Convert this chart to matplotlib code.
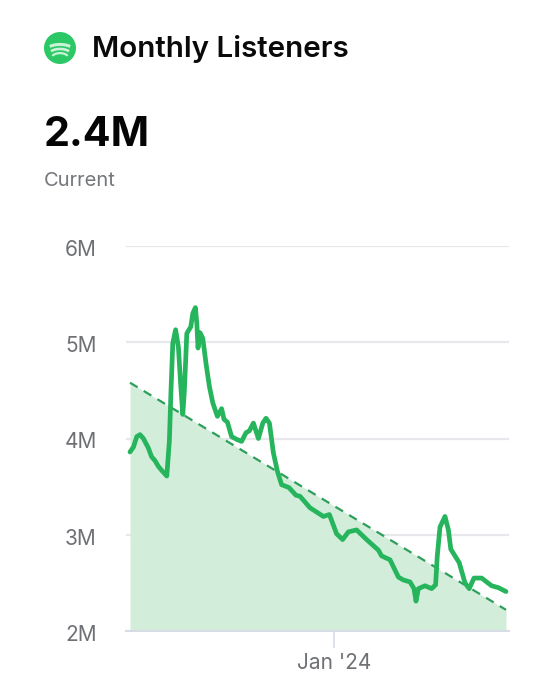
import matplotlib
matplotlib.use('Agg')
import matplotlib.pyplot as plt
from matplotlib.patches import Arc, Circle
from matplotlib.transforms import ScaledTranslation

plt.rcParams['font.family'] = ['Inter', 'DejaVu Sans']

# days relative to 1 Jan 2024, listeners in millions
days = [-102, -100.3, -98.6, -97, -95.3, -92.8, -91.2, -89.5, -87.8, -86.2, -83.6, -82.3,
        -81.5, -80.6, -79.2, -77.8, -76.6, -75.6, -74.8, -73.6, -72.8, -71.6, -70.6, -69.3,
        -68.6, -68, -67, -65.6, -64, -62.3, -60.6, -58.3, -56.2, -55, -53.3, -51.2,
        -48.6, -46.2, -44, -42.3, -40.3, -37.8, -35.6, -34, -32.3, -30.3, -28.3, -26.2,
        -22.5, -19, -17, -12, -5.3, -2.3, 1.3, 4.3, 7.2, 11.3, 16.3, 22.2,
        23.8, 28, 32.2, 34.7, 38, 40, 41, 42.2, 45.5, 48.8, 50.8, 51.6,
        53, 55.5, 57.2, 58.4, 62.6, 65.5, 67.6, 70, 73.8, 78.8, 82.2, 86]
listeners = [3.86, 3.91, 4.02, 4.04, 4.00, 3.90, 3.81, 3.77, 3.71, 3.67, 3.61, 3.98,
             4.50, 4.99, 5.13, 4.95, 4.54, 4.25, 4.50, 5.09, 5.12, 5.16, 5.30, 5.36,
             5.20, 4.94, 5.10, 5.04, 4.78, 4.54, 4.37, 4.23, 4.31, 4.20, 4.17, 4.02,
             3.99, 3.97, 4.06, 4.08, 4.16, 4.00, 4.16, 4.21, 4.16, 3.85, 3.66, 3.52,
             3.49, 3.41, 3.40, 3.28, 3.19, 3.21, 3.01, 2.95, 3.03, 3.05, 2.95, 2.84,
             2.78, 2.74, 2.56, 2.53, 2.51, 2.44, 2.31, 2.44, 2.47, 2.44, 2.48, 2.77,
             3.08, 3.19, 3.05, 2.85, 2.71, 2.50, 2.44, 2.55, 2.55, 2.47, 2.45, 2.41]
trend_days = [-102, 86]
trend_values = [4.58, 2.22]
y_ticks = [2, 3, 4, 5, 6]
y_labels = ['2M', '3M', '4M', '5M', '6M']

W, H = 540, 697
fig = plt.figure(figsize=(W / 100, H / 100), dpi=100)

# main chart, placed to line up with the gridlines
ax = fig.add_axes([126 / W, 1 - 631 / H, 383 / W, 385 / H])
ax.set_xlim(-104, 87.5)
ax.set_ylim(2, 6)
for s in ['top', 'right', 'left']:
    ax.spines[s].set_visible(False)
ax.spines['bottom'].set_color('#d6dce6')
ax.spines['bottom'].set_linewidth(1.4)
ax.set_axisbelow(True)
ax.yaxis.grid(True, color='#e6e8ec', linewidth=1.6)
ax.set_yticks(y_ticks)
ax.set_yticklabels(y_labels, fontsize=15, color='#6e7074')
ax.tick_params(axis='y', length=0, pad=21)
# y labels sit a little under their gridlines
for lab in ax.get_yticklabels():
    lab.set_transform(lab.get_transform() + ScaledTranslation(0, -2 / 100, fig.dpi_scale_trans))
ax.set_xticks([0])
ax.set_xticklabels(["Jan '24"], fontsize=15, color='#6e7074')
ax.tick_params(axis='x', length=12, width=1.2, color='#d6dce6', pad=4)

ax.fill_between(trend_days, trend_values, 2, color='#d2eeda', linewidth=0, zorder=2)
ax.plot(trend_days, trend_values, color='#2e9e5b', linewidth=1.6, dashes=(4, 3.2), zorder=3)
ax.plot(days, listeners, color='#26b55c', linewidth=3.4, solid_joinstyle='round',
        solid_capstyle='round', zorder=4, clip_on=False)

# header text
fig.text(92 / W, 1 - 49 / H, 'Monthly Listeners', fontsize=21.3, fontweight='semibold',
         color='#0a0a0a', va='center', ha='left')
fig.text(44 / W, 1 - 135 / H, '2.4M', fontsize=29.7, fontweight='bold', color='#050505',
         va='center', ha='left')
fig.text(44 / W, 1 - 181 / H, 'Current', fontsize=14.5, color='#74777c', va='center', ha='left')

# logo
logo = fig.add_axes([44 / W, 1 - 64 / H, 32 / W, 32 / H])
logo.set_xlim(-1, 1)
logo.set_ylim(-1, 1)
logo.axis('off')
logo.add_patch(Circle((0, 0), 1, color='#2dc866', linewidth=0))
for y0, w0, lw in [(-0.08, 1.55, 2.2), (-0.36, 1.3, 1.9), (-0.62, 1.05, 1.6)]:
    logo.add_patch(Arc((0, y0), w0, 0.6, theta1=15, theta2=165, color='#c8f3d6', linewidth=lw))

fig.savefig('out.png', dpi=100)
